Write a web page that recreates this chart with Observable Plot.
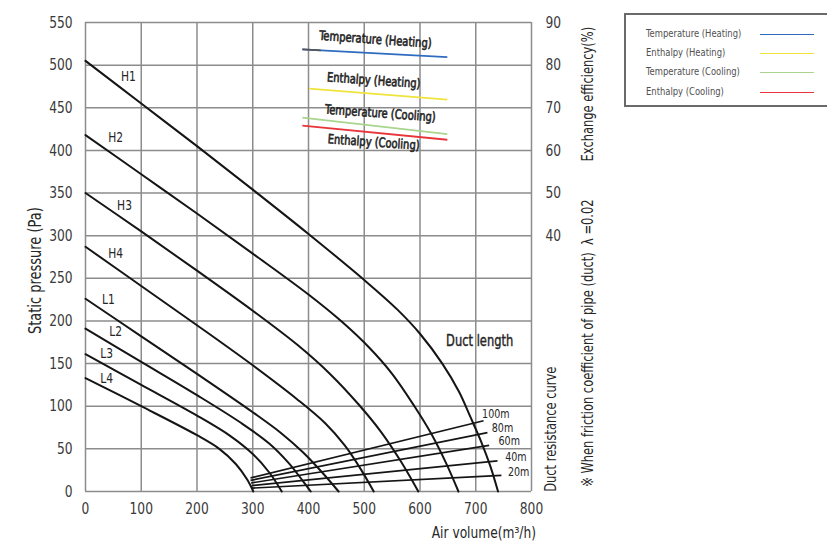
<!DOCTYPE html>
<html>
<head>
<meta charset="utf-8">
<script src="https://cdn.jsdelivr.net/npm/d3@7"></script>
<script src="https://cdn.jsdelivr.net/npm/@observablehq/plot@0.6"></script>
<style>
  html, body { margin: 0; padding: 0; background: #fff; }
  #wrap { position: relative; width: 827px; height: 545px; overflow: hidden;
          font-family: "DejaVu Sans Condensed", "DejaVu Sans", sans-serif; }
  #legend { position: absolute; left: 624px; top: 13px; width: 220px; height: 94px;
            border: 2px solid #6a6a6a; box-sizing: border-box; background: #fff; }
  .li { position: absolute; left: 20px; font-size: 11px; color: #505050; line-height: 12px;
        white-space: nowrap; transform: scaleX(0.85); transform-origin: left center; }
  .ls { position: absolute; left: 134px; width: 54px; height: 0; }
</style>
</head>
<body>
<div id="wrap"></div>
<script>
// ---- Fan curves (air volume m3/h, static pressure Pa) ----
const curveNames = ["H1", "H2", "H3", "H4", "L1", "L2", "L3", "L4"];
const H1 = [[0,505],[100,455],[200,405],[300,354],[400,302],[500,248],[560,213],[600,185],[640,150],[670,117],[690,88],[710,58],[726,30],[740,0]];
const H2 = [[0,418],[100,372],[200,326],[300,279],[400,231],[460,199],[510,168],[550,138],[590,100],[620,68],[647,33],[669,0]];
const H3 = [[0,350],[100,305],[200,259],[300,212],[380,172],[440,137],[490,102],[530,70],[565,36],[597,0]];
const H4 = [[0,287],[100,241],[200,195],[300,148],[380,108],[430,80],[465,54],[492,28],[517,0]];
const L1 = [[0,226],[100,182],[200,138],[300,93],[350,69],[390,46],[425,22],[454,0]];
const L2 = [[0,191],[100,152],[200,113],[280,80],[330,56],[365,33],[388,14],[404,0]];
const L3 = [[0,161],[100,125],[200,89],[260,65],[300,44],[330,22],[352,0]];
const L4 = [[0,133],[100,100],[200,66],[240,50],[270,32],[290,14],[301,0]];
const curvePoints = [H1, H2, H3, H4, L1, L2, L3, L4];
// curve label anchors (m3/h, Pa)
const curveLabelVolume = [77, 54, 70, 54, 41, 54, 38, 38];
const curveLabelPressure = [487, 415, 335, 279, 225, 188, 162, 133];

// ---- Duct resistance curves ----
const ductLengths = ["100m", "80m", "60m", "40m", "20m"];
const ductStartVolume = [296, 296, 297, 298, 299];
const ductStartPressure = [16, 13, 10, 7, 4];
const ductEndVolume = [714, 721, 724, 739, 746];
const ductEndPressure = [83, 69, 54, 36, 19];
const ductLabelVolume = [736, 748, 760, 772, 777];
const ductLabelPressure = [91, 75, 59.5, 40, 22.5];

// ---- Exchange efficiency lines (m3/h, %) ----
const effNames = ["Temperature (Heating)", "Enthalpy (Heating)", "Temperature (Cooling)", "Enthalpy (Cooling)"];
const effStartVolume = [389, 401, 389, 389];
const effEndVolume = [649, 649, 649, 649];
const effStartValue = [83.7, 74.5, 67.7, 65.8];
const effEndValue = [81.9, 71.9, 63.8, 62.5];
const effLabelVolume = [520, 517, 529, 517];
const effLabelValue = [86.0, 76.4, 68.7, 61.9];
const effColors = ["#2f6cc0", "#efe43c", "#a9d58e", "#e8343a"];
// short dark lead-in at the start of the Temperature (Heating) line
const leadStartVolume = 389;
const leadEndVolume = 422;

// ---- Axes ----
const xTicks = [0, 100, 200, 300, 400, 500, 600, 700, 800];
const yTicks = [0, 50, 100, 150, 200, 250, 300, 350, 400, 450, 500, 550];
const effTicks = [40, 50, 60, 70, 80, 90];

// efficiency (%) shares the plot: 90% at 550 Pa, 10% per 50 Pa
const effToPa = v => (v + 20) * 5;

const curveRows = curveNames.flatMap((name, i) =>
  curvePoints[i].map(([v, p]) => ({name, volume: v, pressure: p})));
const ductRows = ductLengths.map((name, i) => ({
  name, x1: ductStartVolume[i], y1: ductStartPressure[i], x2: ductEndVolume[i], y2: ductEndPressure[i],
  lx: ductLabelVolume[i], ly: ductLabelPressure[i]}));
const effRows = effNames.map((name, i) => ({
  name, color: effColors[i],
  x1: effStartVolume[i], y1: effToPa(effStartValue[i]), x2: effEndVolume[i], y2: effToPa(effEndValue[i]),
  lx: effLabelVolume[i], ly: effToPa(effLabelValue[i])}));
const curveLabels = curveNames.map((name, i) => ({name, x: curveLabelVolume[i], y: curveLabelPressure[i]}));
const leadFrac = (leadEndVolume - leadStartVolume) / (effEndVolume[0] - effStartVolume[0]);
const leadRow = [{
  x1: leadStartVolume, y1: effToPa(effStartValue[0]),
  x2: leadEndVolume, y2: effToPa(effStartValue[0] + (effEndValue[0] - effStartValue[0]) * leadFrac)}];

const FONT = '"DejaVu Sans Condensed", "DejaVu Sans", sans-serif';
const INK = "#262626";

const chart = Plot.plot({
  width: 827,
  height: 545,
  marginLeft: 85,
  marginRight: 296,
  marginTop: 22,
  marginBottom: 54,
  style: {fontFamily: FONT, fontSize: "16px", color: "#3d3d3d", background: "transparent", overflow: "visible"},
  x: {domain: [0, 800]},
  y: {domain: [0, 550]},
  marks: [
    Plot.ruleX(xTicks, {stroke: "#8c8c8c", strokeWidth: 1.5}),
    Plot.ruleY(yTicks, {stroke: "#8c8c8c", strokeWidth: 1.5}),
    Plot.axisX(xTicks, {tickSize: 0, tickPadding: 11, label: null, fontSize: 16, fill: "#3a3a3a"}),
    Plot.axisY(yTicks, {anchor: "left", tickSize: 0, tickPadding: 13, label: null, fontSize: 16, fill: "#3a3a3a"}),
    Plot.axisY(effTicks.map(effToPa), {anchor: "right", tickSize: 0, tickPadding: 14, label: null,
      tickFormat: d => d / 5 - 20, fontSize: 16, fill: "#3a3a3a"}),
    // fan curves
    Plot.line(curveRows, {x: "volume", y: "pressure", z: "name", curve: "catmull-rom",
      stroke: "#151515", strokeWidth: 2}),
    Plot.text(curveLabels, {x: "x", y: "y", text: "name", fontSize: 14, fill: INK}),
    // duct resistance
    Plot.link(ductRows, {x1: "x1", y1: "y1", x2: "x2", y2: "y2", stroke: "#151515", strokeWidth: 1.7}),
    Plot.text(ductRows, {x: "lx", y: "ly", text: "name", fontSize: 12.5, fill: INK}),
    Plot.text(["Duct length"], {x: 707, y: 176, fontSize: 15, fill: INK, stroke: INK, strokeWidth: 0.4}),
    // efficiency lines
    Plot.link(effRows, {x1: "x1", y1: "y1", x2: "x2", y2: "y2", stroke: "color", strokeWidth: 1.8}),
    Plot.link(leadRow, {x1: "x1", y1: "y1", x2: "x2", y2: "y2", stroke: "#555", strokeWidth: 1.8}),
    Plot.text(effRows, {x: "lx", y: "ly", text: "name", rotate: 4, fontSize: 13, fill: INK, stroke: INK, strokeWidth: 0.6}),
    // axis titles & notes
    Plot.text(["Static pressure (Pa)"], {x: -90, y: 259, rotate: -90, fontSize: 17, fill: INK}),
    Plot.text(["Air volume(m³/h)"], {x: 808, y: -49, textAnchor: "end", fontSize: 16, fill: INK}),
    Plot.text(["Exchange efficiency(%)"], {x: 902, y: 466, rotate: -90, fontSize: 15, fill: INK}),
    Plot.text(["※ When friction coefficient of pipe (duct)  λ =0.02"], {x: 902, y: 174, rotate: -90, fontSize: 15, fill: INK}),
    Plot.text(["Duct resistance curve"], {x: 836, y: 73, rotate: -90, fontSize: 15, fill: INK})
  ]
});

const wrap = document.getElementById("wrap");
wrap.appendChild(chart);

// condense every label horizontally, like the narrow typeface of the original
chart.querySelectorAll("text").forEach(t => {
  const len = t.getComputedTextLength();
  if (len > 0) {
    t.setAttribute("textLength", (len * 0.85).toFixed(2));
    t.setAttribute("lengthAdjust", "spacingAndGlyphs");
  }
});

// legend
const legend = document.createElement("div");
legend.id = "legend";
const legendTops = [13, 32, 51, 71];
effNames.forEach((name, i) => {
  const t = document.createElement("div");
  t.className = "li";
  t.style.top = legendTops[i] + "px";
  t.textContent = name;
  legend.appendChild(t);
  const s = document.createElement("div");
  s.className = "ls";
  s.style.top = (legendTops[i] + 6) + "px";
  s.style.borderTop = "1.5px solid " + effColors[i];
  legend.appendChild(s);
});
wrap.appendChild(legend);
</script>
</body>
</html>
